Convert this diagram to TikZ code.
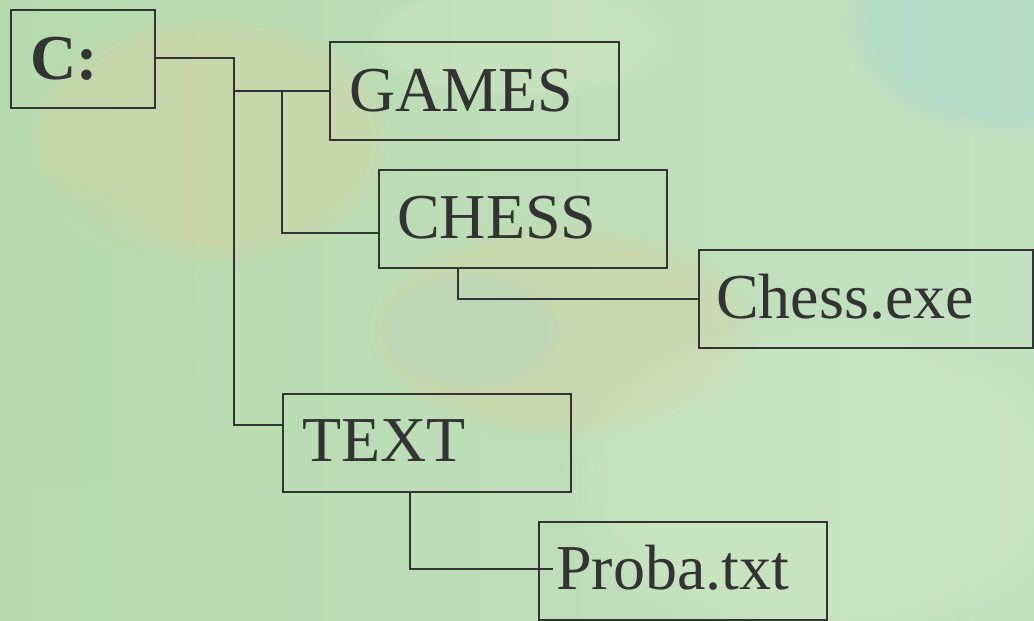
\documentclass[tikz,border=0pt]{standalone}
\usepackage{fontspec}
\setmainfont{Liberation Serif}
\usetikzlibrary{fadings}
\definecolor{ink}{HTML}{333333}
\definecolor{bgA}{HTML}{B6DAAE}
\definecolor{bgB}{HTML}{C4E2C2}
\definecolor{tan}{HTML}{D6D1A2}
\definecolor{bluish}{HTML}{A6D6CE}
\definecolor{pale}{HTML}{D2E8C4}
\tikzset{
  box/.style={draw=ink, line width=2pt, anchor=north west, inner sep=0pt},
  lbl/.style={anchor=base west, inner sep=0pt, text=ink, font=\fontsize{64}{70}\selectfont},
  conn/.style={draw=ink, line width=2pt},
  blob/.style={path fading=circle with fuzzy edge 20 percent, fill opacity=0.45}
}
\begin{document}
\begin{tikzpicture}[x=1pt,y=-1pt]
\useasboundingbox (0,0) rectangle (1034,621);
% background
\shade[left color=bgA, right color=bgB] (0,0) rectangle (1034,621);
\fill[tan, blob] (210,140) ellipse [x radius=190, y radius=130];
\fill[tan, blob] (560,330) ellipse [x radius=200, y radius=110];
\fill[bluish, blob] (1010,20) ellipse [x radius=170, y radius=120];
\fill[bluish, blob, fill opacity=0.3] (470,330) ellipse [x radius=90, y radius=60];
\fill[pale, blob] (820,480) ellipse [x radius=260, y radius=170];
\fill[pale, blob] (520,40) ellipse [x radius=160, y radius=60];
\fill[bgA, blob] (60,330) ellipse [x radius=140, y radius=160];
% boxes
\node[box, minimum width=144pt, minimum height=98pt] (c) at (10,9) {};
\node[box, minimum width=289pt, minimum height=98pt] (games) at (329,41) {};
\node[box, minimum width=288pt, minimum height=98pt] (chess) at (378,169) {};
\node[box, minimum width=334pt, minimum height=98pt] (chessexe) at (698,249) {};
\node[box, minimum width=288pt, minimum height=98pt] (textb) at (282,393) {};
\node[box, minimum width=288pt, minimum height=98pt] (proba) at (538,521) {};
% labels
\node[lbl, font=\fontsize{64}{70}\selectfont\bfseries] (ct) at (30,79) {C:};
\node[lbl] (gamest) at (349,111) {GAMES};
\node[lbl] (chesst) at (397,238) {CHESS};
\node[lbl] (chessexet) at (716,318) {Chess.exe};
\node[lbl] (textt) at (302,461) {TEXT};
\node[lbl] (probat) at (556,589) {Proba.txt};
% connectors
\coordinate (j1) at (234,0);
\coordinate (j2) at (282,0);
\draw[conn] ([yshift=1pt]c.east) -| (j1 |- textb.north) |- ([yshift=-32pt]textb.north west);
\draw[conn] (j1 |- games.west) -- (games.west);
\draw[conn] (j2 |- games.west) |- ([yshift=-64pt]chess.north west);
\draw[conn] ([xshift=80pt]chess.south west) |- (chessexe.west);
\draw[conn] ([xshift=128pt]textb.south west) |- ([xshift=15pt,yshift=2pt]proba.west);
\end{tikzpicture}
\end{document}
